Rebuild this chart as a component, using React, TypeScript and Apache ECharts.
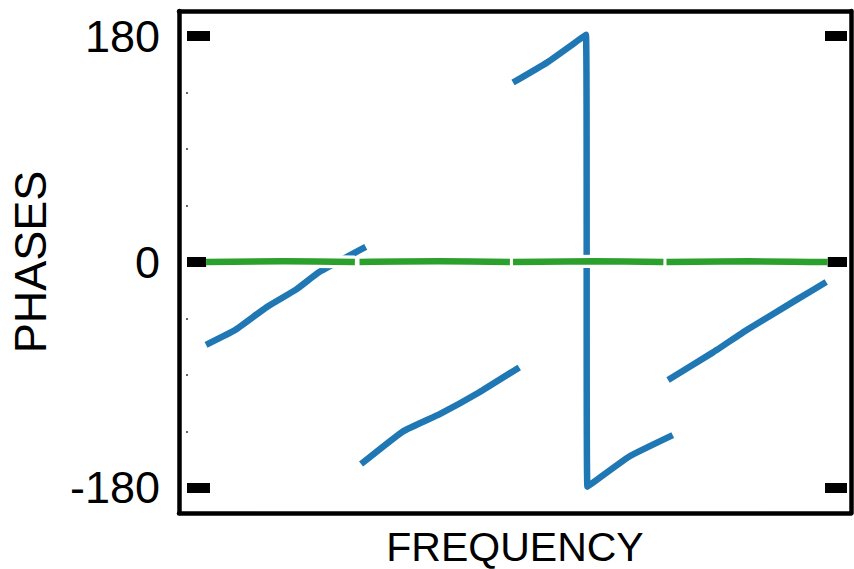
import React, { useEffect, useRef } from "react";
import * as echarts from "echarts";

// Phase readings (x in segment units, y in degrees)
const blueSeg1: [number, number][] = [[0, -66], [0.19, -54], [0.39, -36], [0.58, -22], [0.73, -8], [1.03, 12]];
const blueSeg2: [number, number][] = [[1.0, -161], [1.27, -135], [1.51, -121], [1.76, -104], [2.02, -84]];
const blueSeg3: [number, number][] = [[1.98, 143], [2.2, 159], [2.45, 181], [2.46, -179], [2.73, -155], [3.01, -138]];
const blueSeg4: [number, number][] = [[2.98, -94], [3.27, -72], [3.49, -54], [3.81, -30], [4.0, -16]];
const greenSegs: [number, number][][] = [
  [[0, 0], [0.5, 0.5], [0.96, 0]],
  [[0.99, 0], [1.5, 0.5], [1.96, 0]],
  [[1.98, 0], [2.5, 0.5], [2.95, 0]],
  [[2.97, 0], [3.5, 0.5], [4.01, 0]],
];
const yTickValues = [-180, 0, 180];
const yMinorValues = [-135, -90, -45, 45, 90, 135];
const xLabel = "FREQUENCY";
const yLabel = "PHASES";

const BLUE = "#1f77b4";
const GREEN = "#2ca02c";
const FONT = "Liberation Sans";

export default function App() {
  const ref = useRef<HTMLDivElement>(null);
  useEffect(() => {
    if (!ref.current) return;
    const chart = echarts.init(ref.current, null, { renderer: "svg" });
    const frame = { color: "#000", width: 4.5 };
    const yBase = { type: "value", min: -200, max: 200, splitLine: { show: false }, axisLabel: { show: false } };
    const series: any[] = [];
    [blueSeg1, blueSeg2, blueSeg3, blueSeg4].forEach((d) => {
      series.push({
        type: "line", data: d, showSymbol: false, symbol: "none",
        smooth: 0.12,
        lineStyle: { color: BLUE, width: 6.5, cap: "butt", join: "round" },
      });
    });
    greenSegs.forEach((d) => {
      series.push({
        type: "line", data: d, symbol: "none", smooth: 0.4,
        lineStyle: { color: "#fff", width: 13, cap: "butt" },
      });
      series.push({
        type: "line", data: d, symbol: "none", smooth: 0.4,
        lineStyle: { color: GREEN, width: 6.5, cap: "butt" },
      });
    });
    chart.setOption({
      animation: false,
      grid: { left: 179, right: 3, top: 11, bottom: 56, containLabel: false, outerBoundsMode: "none" },
      xAxis: [
        {
          type: "value", min: -0.1745, max: 4.16, position: "bottom",
          axisLine: { show: true, onZero: false, lineStyle: frame }, axisTick: { show: false },
          axisLabel: { show: false }, splitLine: { show: false },
          name: xLabel, nameLocation: "middle", nameGap: 13,
          nameTextStyle: { fontFamily: FONT, fontSize: 41, lineHeight: 41, color: "#000", verticalAlign: "top" },
        },
        {
          type: "value", min: -0.1745, max: 4.16, position: "top",
          axisLine: { show: true, onZero: false, lineStyle: frame }, axisTick: { show: false },
          axisLabel: { show: false }, splitLine: { show: false },
        },
      ],
      yAxis: [
        {
          type: "value", min: -200, max: 200, position: "left",
          axisLine: { show: true, onZero: false, lineStyle: frame }, axisTick: { show: false },
          splitLine: { show: false },
          axisLabel: {
            show: true, customValues: yTickValues, margin: 19,
            fontFamily: FONT, fontSize: 45, color: "#000",
          },
          name: yLabel, nameLocation: "middle", nameGap: 126, nameRotate: 90,
          nameTextStyle: { fontFamily: FONT, fontSize: 45, color: "#000" },
        },
        {
          ...yBase, position: "left", offset: -8,
          axisLine: { show: false, onZero: false },
          axisTick: { show: true, inside: true, customValues: yTickValues, length: 23, lineStyle: { color: "#000", width: 10 } },
        },
        {
          ...yBase, position: "left", offset: -7,
          axisLine: { show: false, onZero: false },
          axisTick: { show: true, inside: true, customValues: yMinorValues, length: 2, lineStyle: { color: "#666", width: 2 } },
        },
        {
          ...yBase, position: "right",
          axisLine: { show: true, onZero: false, lineStyle: frame }, axisTick: { show: false },
        },
        {
          ...yBase, position: "right", offset: -4,
          axisLine: { show: false, onZero: false },
          axisTick: { show: true, inside: true, customValues: yTickValues, length: 22, lineStyle: { color: "#000", width: 10 } },
        },
      ],
      series,
    });
    return () => chart.dispose();
  }, []);
  return <div ref={ref} style={{ width: 854, height: 569, position: "absolute", left: 0, top: 0 }} />;
}
